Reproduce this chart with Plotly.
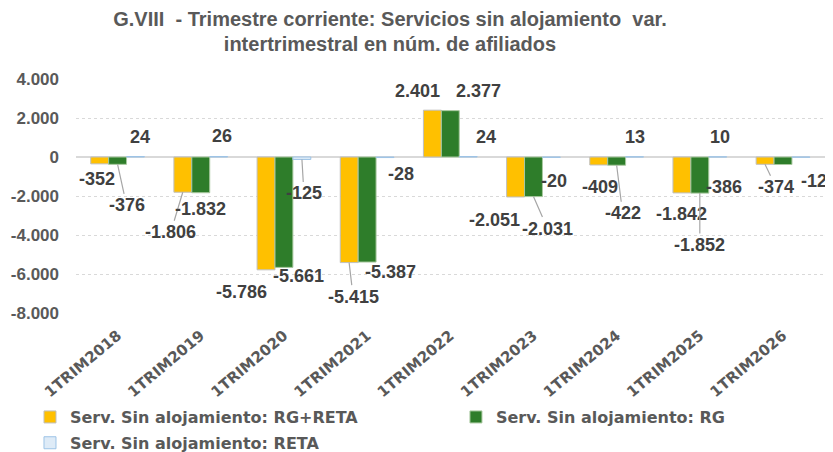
import plotly.graph_objects as go

# data
categories = ['1TRIM2018', '1TRIM2019', '1TRIM2020', '1TRIM2021', '1TRIM2022',
              '1TRIM2023', '1TRIM2024', '1TRIM2025', '1TRIM2026']
rg_reta = [-352, -1806, -5786, -5415, 2401, -2051, -409, -1842, -374]
rg = [-376, -1832, -5661, -5387, 2377, -2031, -422, -1852, -386]
reta = [24, 26, -125, -28, 24, -20, 13, 10, -12]
y_ticks = [4000, 2000, 0, -2000, -4000, -6000, -8000]

# label placement (pixel offsets from bar end) and leader lines
dx_rg_reta = [-3, -12, -24, 4, -15, -21, 1, 0, 11]
dy_rg_reta = [15, 40, 22, 34, -19, 23, 22, 21, 23]
lead_rg_reta = [0, 1, 0, 1, 0, 0, 0, 0, 1]
dx_rg = [9, 0, 15, 23, 28, 14, 6, 0, -59]
dy_rg = [41, 16, 9, 10, -20, 32, 48, 52, 22]
lead_rg = [1, 0, 0, 0, 0, 1, 1, 1, 0]
dx_reta = [4, 3, 2, 16, 18, 3, 0, 2, 13]
dy_reta = [-20, -20, 34, 16, -20, 24, -20, -20, 24]
lead_reta = [0, 0, 1, 0, 0, 0, 0, 0, 0]


def fmt(v):
    return f"{v:,}".replace(",", ".")


TXT = '#404040'
GRAY = '#595959'
LBL = dict(family='Liberation Sans', size=18, color=TXT, weight='bold')

fig = go.Figure()
fig.add_trace(go.Bar(x=categories, y=rg_reta, name='Serv. Sin alojamiento: RG+RETA',
                     legend='legend', legendgroup='a',
                     marker=dict(color='#FFC000', line=dict(color='#BFBFBF', width=1))))
fig.add_trace(go.Bar(x=categories, y=rg, name='Serv. Sin alojamiento: RG',
                     legend='legend2', legendgroup='b',
                     marker=dict(color='#2E7D2A', line=dict(color='#A9C9A0', width=1))))
fig.add_trace(go.Bar(x=categories, y=reta, name='Serv. Sin alojamiento: RETA',
                     legend='legend', legendgroup='c',
                     marker=dict(color='#DEEBF7', line=dict(color='#9DC3E6', width=1))))

series = [
    (rg_reta, dx_rg_reta, dy_rg_reta, lead_rg_reta, -18),
    (rg, dx_rg, dy_rg, lead_rg, 0),
    (reta, dx_reta, dy_reta, lead_reta, 18),
]
for vals, dxs, dys, leads, off in series:
    for cat, v, dx, dy, lead in zip(categories, vals, dxs, dys, leads):
        if lead:
            fig.add_annotation(x=cat, y=v, xshift=off, text=fmt(v), showarrow=True,
                               ax=dx, ay=dy, arrowhead=0, arrowwidth=1.2,
                               arrowcolor='#A6A6A6', standoff=0, font=LBL)
        else:
            fig.add_annotation(x=cat, y=v, xshift=off + dx, yshift=-dy, text=fmt(v),
                               showarrow=False, font=LBL)

# page body has an 8px margin, so the figure is 8px smaller each way
legend_font = dict(family='DejaVu Sans', size=16, color=GRAY, weight='bold')
fig.update_layout(
    width=825, height=444,
    margin=dict(l=68, r=4, t=71, b=139, autoexpand=False),
    paper_bgcolor='white', plot_bgcolor='white',
    barmode='group', bargap=0.354, bargroupgap=0,
    title=dict(text='G.VIII  - Trimestre corriente: Servicios sin alojamiento  var.<br>intertrimestral en núm. de afiliados',
               x=382 / 825, xanchor='center', y=0.9606, yanchor='top',
               font=dict(family='Liberation Sans', size=20, color=GRAY, weight='bold')),
    showlegend=True,
    legend=dict(orientation='v', x=-0.0611, xanchor='left', y=-0.372, yanchor='top',
                tracegroupgap=2, font=legend_font),
    legend2=dict(orientation='v', x=0.5046, xanchor='left', y=-0.372, yanchor='top',
                 font=legend_font),
)
fig.update_yaxes(range=[-8000, 4000], tickvals=y_ticks, ticktext=[fmt(t) for t in y_ticks],
                 showgrid=True, gridcolor='#D9D9D9', griddash='dot', gridwidth=1,
                 zeroline=True, zerolinecolor='#D9D9D9', zerolinewidth=1.5,
                 tickfont=dict(family='Liberation Sans', size=17, color=GRAY, weight='bold'),
                 ticklabelstandoff=16, showline=False, ticks='', automargin=False)
fig.update_xaxes(tickangle=-40, showline=False, ticks='', automargin=False,
                 ticklabelstandoff=10,
                 tickfont=dict(family='DejaVu Sans', size=15, color=GRAY, weight='bold'))

fig.write_html("out.html")
